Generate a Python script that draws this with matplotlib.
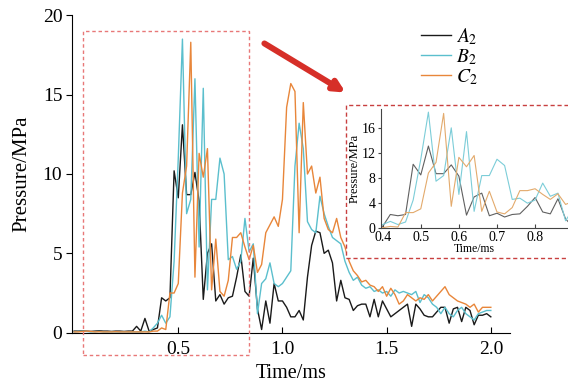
import numpy as np
import matplotlib
matplotlib.use("Agg")
import matplotlib.pyplot as plt
from matplotlib.patches import Rectangle, FancyArrowPatch

plt.rcParams["font.family"] = ["Liberation Serif", "DejaVu Serif"]
plt.rcParams["mathtext.fontset"] = "stix"

# time axis, 0.02 ms sampling
t = np.linspace(0.0, 2.0, 101)

# pressure, MPa
a2 = [0.1, 0.1, 0.12, 0.1, 0.08, 0.1, 0.12, 0.1, 0.1, 0.08, 0.1, 0.1, 0.08, 0.1, 0.1,
      0.4, 0.1, 0.9, 0.1, 0.2,
      0.3, 2.2, 2.0, 2.2, 10.2, 8.5, 13.1, 8.7, 8.7, 10.1, 8.3, 2.1, 5.0, 5.6, 2.0,
      2.4, 1.8, 2.2, 2.3, 3.5, 4.9, 2.6, 2.3, 4.7, 1.5,
      0.2, 2.0, 0.6, 3.1, 2.0, 2.0, 1.6, 1.0, 1.0, 1.4,
      0.8, 3.5, 5.5, 6.4, 6.3, 5.0, 5.2, 4.4, 2.0, 3.3,
      2.2, 2.1, 1.4, 1.7, 1.8, 1.8, 1.0, 2.1, 1.0, 2.0,
      1.5, 1.0, 1.2, 1.4, 1.6, 1.8, 0.4, 1.8, 1.5, 1.1,
      1.0, 1.0, 1.3, 1.6, 1.6, 0.6, 1.5, 1.6, 0.7, 1.6,
      1.4, 0.5, 1.1, 1.1, 1.2, 1.0]
b2 = [0.05, 0.08, 0.1, 0.08, 0.05, 0.06, 0.08, 0.05, 0.05, 0.06, 0.05, 0.05, 0.06, 0.05, 0.05,
      0.05, 0.05, 0.1, 0.05, 0.3,
      0.6, 1.1, 0.6, 1.0, 4.5, 11.0, 18.5, 7.5, 8.4, 16.0, 5.4, 15.4, 2.7, 8.4, 8.4,
      11.0, 10.0, 4.6, 4.8, 4.0, 4.5, 7.2, 5.1, 5.6, 1.2,
      3.1, 3.4, 4.4, 3.1, 2.9, 3.1, 3.5, 3.9, 10.5, 13.2,
      11.6, 7.0, 6.5, 6.3, 8.6, 7.5, 6.7, 6.0, 5.8, 5.6,
      4.5, 3.8, 3.3, 3.5, 3.0, 2.8, 2.9, 2.6, 2.7, 2.5,
      2.6, 2.3, 2.7, 2.5, 2.6, 2.5, 2.4, 2.6, 1.9, 2.4,
      2.2, 1.8, 1.6, 1.2, 1.6, 1.2, 1.0, 1.4, 1.6, 1.2,
      1.0, 0.8, 1.2, 1.3, 1.4, 1.4]
c2 = [0.05, 0.05, 0.08, 0.1, 0.08, 0.05, 0.06, 0.05, 0.05, 0.05, 0.06, 0.05, 0.05, 0.05, 0.05,
      0.05, 0.05, 0.05, 0.05, 0.1,
      0.1, 0.3, 0.2, 2.5, 2.5, 3.1, 8.8, 10.5, 18.3, 3.5, 11.3, 9.8, 11.6, 2.7, 5.9,
      2.6, 2.3, 3.3, 6.0, 6.0, 6.3, 5.4, 4.6, 5.5, 3.8,
      4.3, 6.3, 6.8, 7.3, 6.7, 8.4, 14.2, 15.7, 15.2, 6.3,
      14.5, 10.0, 10.5, 8.8, 9.8, 7.2, 6.5, 6.3, 7.2, 6.0,
      5.4, 4.5, 3.9, 3.6, 3.2, 3.3, 3.0, 2.9, 2.6, 2.9,
      2.3, 2.8, 2.4, 1.8, 2.0, 2.4, 2.2, 2.0, 2.2, 2.1,
      2.4, 2.0, 2.3, 2.6, 2.9, 2.4, 2.2, 2.0, 1.9, 1.8,
      1.6, 1.8, 1.3, 1.6, 1.6, 1.6]

labels = ["$A_2$", "$B_2$", "$C_2$"]
colors = ["#1a1a1a", "#5bbfcd", "#e8863a"]
inset_colors = ["#606060", "#7ccdd8", "#e3aa6c"]
series = [a2, b2, c2]

W, H = 568, 385
fig = plt.figure(figsize=(W / 100, H / 100), dpi=100)


def fbox(x0, y0, x1, y1):
    # pixel box (top-left origin) -> figure fraction rect
    return [x0 / W, 1 - y1 / H, (x1 - x0) / W, (y1 - y0) / H]


ax = fig.add_axes(fbox(72, 15.3, 510, 332.7))
for y, c, lab in zip(series, colors, labels):
    ax.plot(t, y, color=c, lw=1.0, label=lab)
ax.set_xlim(-0.01, 2.092)
ax.set_ylim(0, 20)
ax.set_xticks([0.5, 1.0, 1.5, 2.0])
ax.set_xticklabels(["0.5", "1.0", "1.5", "2.0"])
ax.set_yticks([0, 5, 10, 15, 20])
for s in ["top", "right"]:
    ax.spines[s].set_visible(False)
ax.tick_params(axis="x", direction="in", length=4, pad=6, labelsize=14)
ax.tick_params(axis="y", direction="out", length=4, pad=3, labelsize=14)
ax.set_xlabel("Time/ms", fontsize=14.5, labelpad=4)
ax.set_ylabel("Pressure/MPa", fontsize=15, labelpad=8)
ax.legend(loc="upper left", bbox_to_anchor=(421 / W, 1 - 26 / H),
          bbox_transform=fig.transFigure, frameon=False, fontsize=14,
          handlelength=1.55, handletextpad=0.25, labelspacing=0.02,
          borderpad=0, borderaxespad=0)

# dashed boxes and arrow
fig.patches.append(Rectangle((83 / W, 1 - 355 / H), (248.5 - 83) / W, (355 - 30.5) / H,
                             transform=fig.transFigure, fill=False, ec="#e87878",
                             lw=1.0, ls=(0, (2.5, 2)), zorder=1))
fig.patches.append(Rectangle((346 / W, 1 - 257.5 / H), (575 - 346) / W, (257.5 - 105) / H,
                             transform=fig.transFigure, fc="white", ec="#c84040",
                             lw=1.0, ls=(0, (3, 2)), zorder=1))
fig.patches.append(FancyArrowPatch((262 / W, 1 - 42 / H), (348 / W, 1 - 94 / H),
                                   transform=fig.transFigure, arrowstyle="-|>",
                                   mutation_scale=16, lw=4.3, color="#d62f28", zorder=3))

# zoomed inset
axi = fig.add_axes(fbox(380.7, 109, 568, 228.3), zorder=2)
axi.patch.set_alpha(0)
for y, c in zip(series, inset_colors):
    axi.plot(t, y, color=c, lw=0.8)
axi.set_xlim(0.3948, 0.8864)
axi.set_ylim(0, 19)
axi.set_xticks([0.4, 0.5, 0.6, 0.7, 0.8])
axi.set_yticks([0, 4, 8, 12, 16])
for s in ["top", "right"]:
    axi.spines[s].set_visible(False)
for s in ["left", "bottom"]:
    axi.spines[s].set_color("#444444")
    axi.spines[s].set_linewidth(0.8)
axi.tick_params(axis="x", direction="in", length=3, pad=2, labelsize=10, color="#444444")
axi.tick_params(axis="y", direction="out", length=2.5, pad=1, labelsize=10, color="#444444")
axi.set_xlabel("Time/ms", fontsize=8.5, labelpad=-1)
axi.set_ylabel("Pressure/MPa", fontsize=9, labelpad=1)

fig.savefig("out.png", dpi=100)
